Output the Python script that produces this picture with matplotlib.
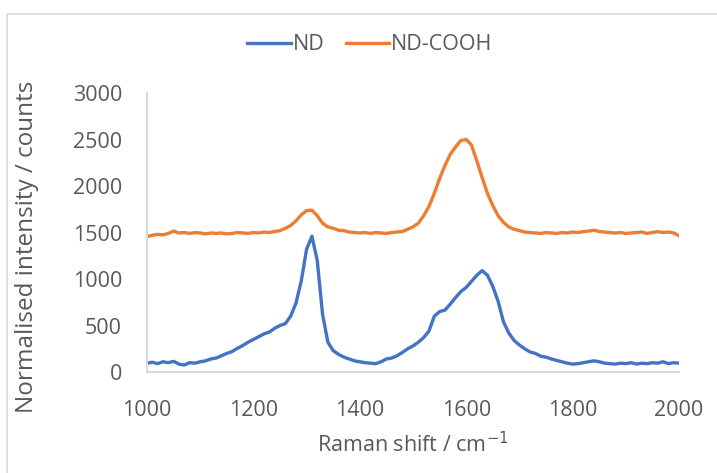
import matplotlib
matplotlib.use("Agg")
import matplotlib.pyplot as plt
from matplotlib.patches import Rectangle

raman_shift = list(range(1000, 2001, 10))

nd = [95, 105, 90, 110, 100, 115, 85, 75, 100, 95,
      110, 120, 140, 150, 175, 200, 220, 255, 285, 320,
      350, 380, 410, 430, 470, 500, 520, 600, 740, 980,
      1320, 1460, 1200, 620, 320, 230, 190, 160, 140, 120,
      110, 100, 95, 90, 110, 140, 150, 175, 210, 250,
      280, 320, 370, 440, 600, 650, 665, 730, 800, 865,
      910, 975, 1040, 1090, 1040, 920, 760, 540, 420, 340,
      290, 250, 215, 200, 170, 160, 140, 125, 110, 95,
      85, 90, 100, 110, 120, 110, 95, 90, 85, 95,
      90, 100, 85, 95, 90, 100, 95, 110, 90, 100,
      95]

nd_cooh = [1455, 1470, 1480, 1475, 1490, 1515, 1495, 1500, 1490, 1500,
           1495, 1485, 1495, 1490, 1495, 1485, 1490, 1500, 1495, 1490,
           1500, 1495, 1505, 1500, 1510, 1520, 1545, 1575, 1625, 1690,
           1735, 1740, 1680, 1600, 1560, 1545, 1525, 1520, 1505, 1500,
           1495, 1500, 1490, 1500, 1495, 1490, 1500, 1505, 1510, 1535,
           1560, 1600, 1680, 1780, 1920, 2080, 2220, 2340, 2420, 2490,
           2500, 2440, 2270, 2090, 1920, 1790, 1680, 1610, 1560, 1535,
           1520, 1505, 1500, 1495, 1490, 1500, 1495, 1490, 1500, 1495,
           1505, 1500, 1510, 1515, 1525, 1510, 1505, 1500, 1495, 1500,
           1490, 1495, 1500, 1505, 1490, 1500, 1510, 1500, 1505, 1495,
           1465]

x_ticks = [1000, 1200, 1400, 1600, 1800, 2000]
y_ticks = [0, 500, 1000, 1500, 2000, 2500, 3000]

plt.rcParams['font.family'] = ['Open Sans', 'DejaVu Sans']
TXT = '#595959'
FS = 15.5

W, H = 717, 473
fig = plt.figure(figsize=(W / 100, H / 100), dpi=100)
fig.patches.append(Rectangle((7 / W, -0.1), 1.2, 1 - 14 / H + 0.1,
                             transform=fig.transFigure, fill=False,
                             edgecolor='#d9d9d9', linewidth=1.2))

ax = fig.add_axes([147 / W, 1 - 372 / H, (679 - 147) / W, (372 - 93) / H])
ax.plot(raman_shift, nd, color='#4472C4', linewidth=2.4, label='ND')
ax.plot(raman_shift, nd_cooh, color='#ED7D31', linewidth=2.4, label='ND-COOH')

ax.set_xlim(1000, 2000)
ax.set_ylim(0, 3000)
ax.set_xticks(x_ticks)
ax.set_yticks(y_ticks)
ax.tick_params(length=0, labelsize=FS, labelcolor=TXT)
ax.tick_params(axis='y', pad=18)
ax.tick_params(axis='x', pad=20)
for s in ['top', 'right']:
    ax.spines[s].set_visible(False)
for s in ['left', 'bottom']:
    ax.spines[s].set_color('#d9d9d9')
    ax.spines[s].set_linewidth(1.5)

ax.set_xlabel('Raman shift / cm$^{-1}$', fontsize=FS, color=TXT, labelpad=8)
ax.set_ylabel('Normalised intensity / counts', fontsize=17.5, color=TXT,
              va='center')
ax.yaxis.set_label_coords((27 - 147) / 532, (372 - 247) / 279)

fig.legend(loc='center', bbox_to_anchor=(370 / W, 1 - 45 / H), ncol=2,
           frameon=False, fontsize=FS, labelcolor=TXT, handlelength=2.0,
           handletextpad=0.1, columnspacing=1.0)

fig.savefig('out.png', dpi=100)
